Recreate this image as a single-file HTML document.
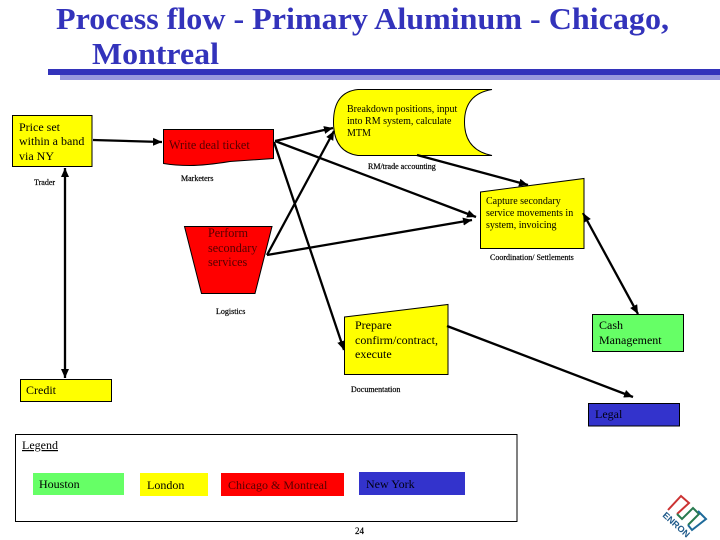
<!DOCTYPE html>
<html><head><meta charset="utf-8"><style>
html,body{margin:0;padding:0;background:#fff}
svg{display:block}
text{font-family:"Liberation Serif",serif;fill:#000}
.s{font-size:12px}.m{font-size:12.2px}.t{font-size:8px;stroke:#000;stroke-width:.2px}
</style></head><body>
<svg width="720" height="540" viewBox="0 0 720 540" xmlns="http://www.w3.org/2000/svg">
<defs><marker id="a" markerUnits="userSpaceOnUse" markerWidth="10" markerHeight="10" refX="9" refY="4" orient="auto-start-reverse"><path d="M0 0L9 4L0 8Z" fill="#000"/></marker></defs>
<text x="56" y="29" textLength="613" lengthAdjust="spacingAndGlyphs" style="font-size:31px;fill:#3333bb;font-weight:bold">Process flow - Primary Aluminum - Chicago,</text>
<text x="92" y="64" textLength="127" lengthAdjust="spacingAndGlyphs" style="font-size:31px;fill:#3333bb;font-weight:bold">Montreal</text>
<rect x="48" y="69" width="672" height="6" fill="#3333bb"/>
<rect x="60" y="75" width="660" height="5" fill="#9999dd"/>

<g stroke="#000" stroke-width="1">
<rect x="12.5" y="115.5" width="79.5" height="51" fill="#ff0"/>
<path d="M163.500 129.500H273.500V158.500L230 161.500Q205 165.500 190 165.500Q175 165.500 163.500 163.500Z" fill="#f00"/>
<path d="M184.500 226.500H272L255 293.500H201.500Z" fill="#f00"/>
<path d="M492 89.500H358Q333.500 92 333.500 122Q333.500 152 358 155.500H492Q464.500 150 464.500 122Q464.500 94 492 89.500Z" fill="#ff0"/>
<path d="M480.500 192L584 178.500V248.500H480.500Z" fill="#ff0"/>
<path d="M344.500 317L448 304.500V374.500H344.500Z" fill="#ff0"/>
<rect x="592.500" y="314.500" width="91" height="37" fill="#66ff66"/>
<rect x="588.500" y="403.500" width="91" height="22.500" fill="#3333cc"/>
<rect x="20.500" y="379.500" width="91" height="22" fill="#ff0"/>
<rect x="15.500" y="434.500" width="501.500" height="87" fill="#fff"/>
</g>
<rect x="33" y="473" width="91" height="22" fill="#66ff66"/>
<rect x="140" y="473" width="68" height="23" fill="#ff0"/>
<rect x="221" y="473" width="123" height="23" fill="#f00"/>
<rect x="359" y="472" width="106" height="23" fill="#3333cc"/>

<g stroke="#000" stroke-width="2.300" fill="none">
<line x1="93" y1="140" x2="162" y2="142" marker-end="url(#a)"/>
<line x1="65" y1="378" x2="65" y2="168" marker-start="url(#a)" marker-end="url(#a)"/>
<line x1="275" y1="141" x2="333" y2="128" marker-end="url(#a)"/>
<line x1="275" y1="141" x2="476" y2="217" marker-end="url(#a)"/>
<line x1="274" y1="142" x2="344" y2="350" marker-end="url(#a)"/>
<line x1="267" y1="255" x2="334" y2="131" marker-end="url(#a)"/>
<line x1="267" y1="255" x2="472" y2="220" marker-end="url(#a)"/>
<line x1="417" y1="155" x2="528" y2="185" marker-end="url(#a)"/>
<line x1="638" y1="314" x2="583" y2="213" marker-start="url(#a)" marker-end="url(#a)"/>
<line x1="447" y1="326" x2="633" y2="397" marker-end="url(#a)"/>
</g>

<text class="s" x="19" y="131">Price set</text>
<text class="s" x="19" y="145">within a band</text>
<text class="s" x="19" y="160">via NY</text>
<text class="m" x="169" y="149" style="fill:#500">Write deal ticket</text>
<text class="m" x="208" y="237" style="fill:#500">Perform</text>
<text class="m" x="208" y="252" style="fill:#500">secondary</text>
<text class="m" x="208" y="266" style="fill:#500">services</text>
<text x="347" y="112" style="font-size:10px">Breakdown positions, input</text>
<text x="347" y="124" style="font-size:10px">into RM system, calculate</text>
<text x="347" y="136" style="font-size:10px">MTM</text>
<text x="486" y="204" style="font-size:10px">Capture secondary</text>
<text x="486" y="216" style="font-size:10px">service movements in</text>
<text x="486" y="228" style="font-size:10px">system, invoicing</text>
<text class="s" x="355" y="329">Prepare</text>
<text class="s" x="355" y="344">confirm/contract,</text>
<text class="s" x="355" y="358">execute</text>
<text class="s" x="599" y="329">Cash</text>
<text class="s" x="599" y="344">Management</text>
<text class="s" x="595" y="418" style="fill:#001">Legal</text>
<text class="s" x="26" y="394">Credit</text>
<text class="s" x="22" y="449" text-decoration="underline">Legend</text>
<text class="s" x="39" y="488">Houston</text>
<text class="s" x="147" y="489">London</text>
<text class="s" x="228" y="489" style="fill:#500">Chicago &amp; Montreal</text>
<text class="s" x="366" y="488" style="fill:#001">New York</text>
<text class="t" x="34" y="185">Trader</text>
<text class="t" x="181" y="181">Marketers</text>
<text class="t" x="368" y="169">RM/trade accounting</text>
<text class="t" x="490" y="260">Coordination/ Settlements</text>
<text class="t" x="216" y="314">Logistics</text>
<text class="t" x="351" y="392">Documentation</text>
<text class="t" x="355" y="534" style="font-size:9px">24</text>

<g fill="none" stroke-width="2" stroke-linejoin="miter">
<path d="M668 510L681 496L689 503L677 514" stroke="#c33"/>
<path d="M677 514L682 519L693 508L699 514L688 525" stroke="#287a4f"/>
<path d="M688 525L692 530L706 519L698 511" stroke="#1e6a9a"/>
</g>
<text transform="translate(662,516) rotate(42)" textLength="33" lengthAdjust="spacingAndGlyphs" style="font-size:9px;fill:#1f5a8a;font-weight:bold;font-family:'Liberation Sans',sans-serif">ENRON</text>
</svg>
</body></html>
